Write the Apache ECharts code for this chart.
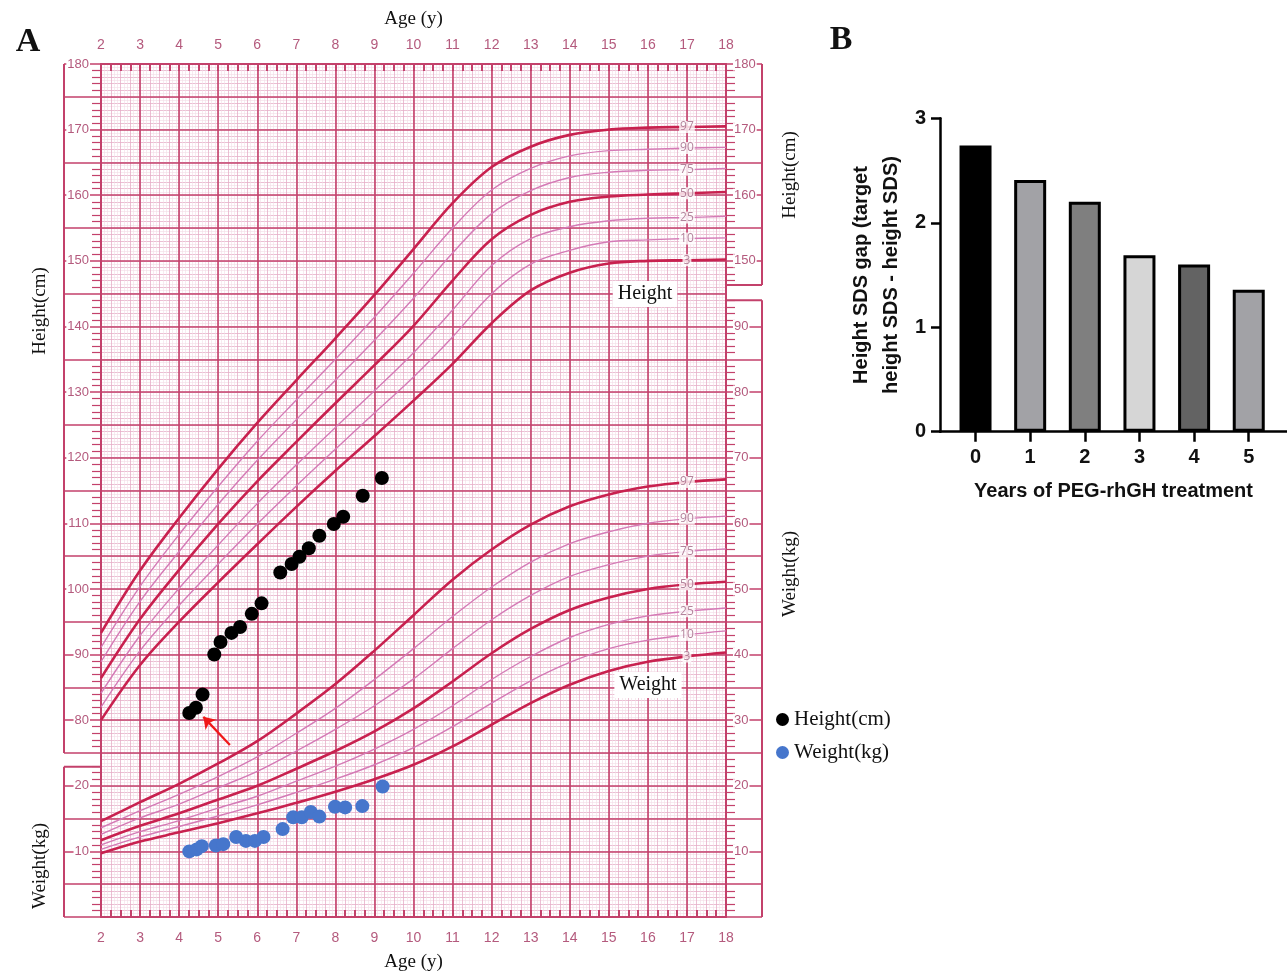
<!DOCTYPE html>
<html>
<head>
<meta charset="utf-8">
<title>Growth chart and SDS gap</title>
<script src="https://cdn.jsdelivr.net/npm/echarts@6.0.0/dist/echarts.min.js"></script>
<style>
    html, body {margin: 0; padding: 0; background: #fff;}
    #main {width: 1287px; height: 972px;}
</style>
</head>
<body>
<div id="main"></div>
<script>
// ages (y) of the reference curves
const ages = [2, 3, 4, 5, 6, 7, 8, 9, 10, 11, 12, 13, 14, 15, 16, 17, 18];

// height percentiles (cm)
const h3  = [80.0, 88.4, 95.0, 101.0, 106.8, 112.5, 118.0, 123.3, 128.7, 134.3, 140.5, 145.5, 148.2, 149.6, 150.0, 150.1, 150.2];
const h10 = [82.0, 90.6, 97.5, 103.8, 109.9, 115.7, 121.3, 126.8, 132.3, 138.4, 145.0, 149.5, 151.6, 152.9, 153.2, 153.4, 153.5];
const h25 = [84.1, 92.9, 100.1, 106.7, 113.0, 118.9, 124.6, 130.2, 136.0, 142.5, 149.3, 153.4, 155.2, 156.1, 156.5, 156.6, 156.8];
const h50 = [86.4, 95.4, 102.9, 109.9, 116.4, 122.4, 128.3, 134.1, 140.1, 147.0, 153.3, 157.0, 159.0, 159.8, 160.1, 160.3, 160.5];
const h75 = [88.9, 98.1, 105.7, 112.9, 119.6, 125.8, 131.8, 137.9, 144.3, 151.2, 157.2, 160.7, 162.7, 163.5, 163.8, 163.9, 164.1];
const h90 = [91.1, 100.4, 108.3, 115.6, 122.5, 128.8, 135.0, 141.4, 148.1, 155.0, 160.8, 164.1, 166.0, 166.8, 167.0, 167.2, 167.3];
const h97 = [93.3, 102.8, 110.8, 118.3, 125.3, 131.8, 138.2, 144.8, 151.8, 158.8, 164.3, 167.4, 169.2, 170.0, 170.3, 170.4, 170.5];

// weight percentiles (kg)
const w3  = [9.7, 11.5, 12.9, 14.3, 15.8, 17.4, 19.1, 21.0, 23.2, 26.0, 29.3, 32.6, 35.4, 37.5, 38.9, 39.7, 40.3];
const w10 = [10.3, 12.2, 13.8, 15.4, 17.1, 19.0, 21.0, 23.2, 25.8, 29.0, 32.6, 36.0, 38.8, 40.9, 42.2, 43.0, 43.6];
const w25 = [11.0, 13.0, 14.7, 16.6, 18.4, 20.7, 23.0, 25.6, 28.6, 32.2, 36.2, 39.7, 42.6, 44.6, 45.9, 46.6, 47.1];
const w50 = [11.7, 13.9, 15.8, 17.9, 20.0, 22.6, 25.3, 28.3, 31.8, 35.9, 40.2, 43.9, 46.8, 48.7, 50.0, 50.7, 51.1];
const w75 = [12.6, 15.1, 17.2, 19.7, 22.2, 25.3, 28.6, 32.2, 36.3, 40.9, 45.3, 49.0, 51.9, 53.7, 55.0, 55.7, 56.1];
const w90 = [13.6, 16.2, 18.7, 21.4, 24.4, 28.0, 31.8, 36.2, 40.9, 45.8, 50.3, 54.1, 56.9, 58.7, 60.0, 60.7, 61.1];
const w97 = [14.6, 17.5, 20.3, 23.4, 26.8, 31.0, 35.5, 40.6, 46.0, 51.4, 56.0, 59.8, 62.6, 64.4, 65.6, 66.3, 66.7];

// patient measurements
const heightAges = [4.26, 4.43, 4.60, 4.90, 5.06, 5.34, 5.56, 5.86, 6.11, 6.59, 6.88, 7.08, 7.32, 7.59, 7.96, 8.20, 8.70, 9.19];
const heights    = [81.1, 81.9, 83.9, 90.0, 91.9, 93.3, 94.2, 96.2, 97.8, 102.5, 103.8, 104.9, 106.2, 108.1, 109.9, 111.0, 114.2, 116.9];
const weightAges = [4.26, 4.45, 4.58, 4.94, 5.13, 5.46, 5.71, 5.94, 6.16, 6.65, 6.92, 7.14, 7.37, 7.59, 7.99, 8.25, 8.69, 9.21];
const weights    = [10.0, 10.3, 10.8, 10.9, 11.1, 12.2, 11.6, 11.6, 12.2, 13.4, 15.2, 15.2, 16.0, 15.3, 16.8, 16.7, 16.9, 19.9];

// red arrow [age, height]
const arrowFrom = [5.30, 76.2];
const arrowTo = [4.62, 80.5];

// panel B
const gapYears = ['0', '1', '2', '3', '4', '5'];
const gapValues = [2.74, 2.41, 2.20, 1.69, 1.60, 1.36];
const gapColors = ['#000000', '#a2a2a6', '#7f7f7f', '#d6d6d6', '#636363', '#a2a2a6'];

const SERIF = 'Liberation Serif';
const SANS = 'Liberation Sans';
const MAJOR = '#c3416b';
const MID = '#e6afc8';
const FINE = '#f4dbe6';
const LABEL = '#b45a7d';
const THICK = '#c8214f';
const THIN = '#d47ab6';

const pairs = (xs, ys) => xs.map((x, i) => [x, ys[i]]);

const curve = (name, values, yAxisIndex, thick) => ({
    name: name,
    type: 'line',
    xAxisIndex: 1,
    yAxisIndex: yAxisIndex,
    data: pairs(ages, values),
    smooth: 0.35,
    showSymbol: false,
    silent: true,
    lineStyle: {color: thick ? THICK : THIN, width: thick ? 2.6 : 1.4},
    z: 3,
});

// percentile labels sit on the age-17 line
const pctLabels = (list, yAxisIndex) => ({
    type: 'scatter',
    xAxisIndex: 1,
    yAxisIndex: yAxisIndex,
    symbolSize: 0,
    silent: true,
    z: 4,
    data: list.map(([text, values]) => ({name: text, value: [ages[15], values[15]]})),
    label: {
        show: true,
        position: 'inside',
        formatter: p => p.name,
        color: '#a06583',
        fontFamily: 'Open Sans',
        fontSize: 12,
        backgroundColor: '#fff',
        padding: [0, 1],
    },
});

const heightList = [['97', h97], ['90', h90], ['75', h75], ['50', h50], ['25', h25], ['10', h10], ['3', h3]];
const weightList = [['97', w97], ['90', w90], ['75', w75], ['50', w50], ['25', w25], ['10', w10], ['3', w3]];

const tickLabel = {
    color: LABEL,
    fontFamily: SANS,
    fontSize: 13,
    backgroundColor: '#fff',
    padding: [0, 1],
};

const chart = echarts.init(document.getElementById('main'));

const option = {
    animation: false,
    backgroundColor: '#fff',
    legend: {
        data: ['Height(cm)', 'Weight(kg)'],
        orient: 'vertical',
        left: 771,
        top: 704,
        icon: 'circle',
        itemWidth: 13,
        itemHeight: 13,
        itemGap: 12,
        textStyle: {fontFamily: SERIF, fontSize: 21, color: '#111'},
    },
    grid: [
        {left: 101, top: 64, width: 625, height: 853, outerBoundsMode: 'none'},
        {left: 940, top: 118.3, width: 347, height: 313.4, outerBoundsMode: 'none'},
    ],
    xAxis: [
        {
            // fine vertical grid
            type: 'value', gridIndex: 0, position: 'bottom', min: 2, max: 18, interval: 0.25, z: 0,
            axisLine: {show: false}, axisTick: {show: false}, axisLabel: {show: false},
            splitLine: {lineStyle: {color: MID, width: 0.8}},
            minorTick: {show: false, splitNumber: 3},
            minorSplitLine: {show: true, lineStyle: {color: FINE, width: 0.6}},
        },
        {
            type: 'value', gridIndex: 0, position: 'bottom', min: 2, max: 18, interval: 1, z: 1,
            axisLine: {onZero: false, lineStyle: {color: MAJOR, width: 2}},
            axisTick: {inside: true, length: 7, lineStyle: {color: MAJOR, width: 2}},
            minorTick: {show: true, splitNumber: 4, length: 7, lineStyle: {color: MAJOR, width: 2}},
            axisLabel: {color: LABEL, fontFamily: SANS, fontSize: 14, margin: 14},
            splitLine: {lineStyle: {color: MAJOR, width: 1.6}},
            name: 'Age (y)', nameLocation: 'middle', nameGap: 36,
            nameTextStyle: {fontFamily: SERIF, fontSize: 19, color: '#111'},
        },
        {
            type: 'value', gridIndex: 0, position: 'top', min: 2, max: 18, interval: 1, z: 1,
            axisLine: {onZero: false, lineStyle: {color: MAJOR, width: 2}},
            axisTick: {inside: true, length: 7, lineStyle: {color: MAJOR, width: 2}},
            minorTick: {show: true, splitNumber: 4, length: 7, lineStyle: {color: MAJOR, width: 2}},
            axisLabel: {color: LABEL, fontFamily: SANS, fontSize: 14, margin: 12},
            splitLine: {show: false},
            name: 'Age (y)', nameLocation: 'middle', nameGap: 35,
            nameTextStyle: {fontFamily: SERIF, fontSize: 19, color: '#111'},
        },
        {
            type: 'value', gridIndex: 1, min: -0.65, max: 5.7,
            axisLine: {onZero: false, lineStyle: {color: '#000', width: 2.5}},
            axisTick: {length: 10, lineStyle: {color: '#000', width: 2.5}, customValues: [0, 1, 2, 3, 4, 5]},
            axisLabel: {
                customValues: [0, 1, 2, 3, 4, 5],
                formatter: v => gapYears[v],
                color: '#111', fontFamily: SANS, fontSize: 20, fontWeight: 'bold', margin: 16,
            },
            splitLine: {show: false},
            name: 'Years of PEG-rhGH treatment', nameLocation: 'middle', nameGap: 50,
            nameTextStyle: {fontFamily: SANS, fontSize: 20, fontWeight: 'bold', color: '#111'},
        },
    ],
    yAxis: [
        {
            // fine horizontal grid
            type: 'value', gridIndex: 0, position: 'left', min: 50, max: 180, interval: 1, z: 0,
            axisLine: {show: false}, axisTick: {show: false}, axisLabel: {show: false},
            splitLine: {lineStyle: {color: MID, width: 0.8}},
            minorTick: {show: false, splitNumber: 2},
            minorSplitLine: {show: true, lineStyle: {color: FINE, width: 0.6}},
        },
        {
            // height (left)
            type: 'value', gridIndex: 0, position: 'left', min: 50, max: 180, interval: 5, z: 1,
            axisLine: {show: true, onZero: false, lineStyle: {color: MAJOR, width: 2}},
            axisTick: {show: true, length: 37, lineStyle: {color: MAJOR, width: 1.6}},
            minorTick: {show: true, splitNumber: 5, length: 9, lineStyle: {color: MAJOR, width: 1.2}},
            axisLabel: Object.assign({}, tickLabel, {
                margin: 11,
                formatter: v => (v % 10 !== 0 || v === 50) ? '' : String(v >= 80 ? v : v - 50),
            }),
            splitLine: {lineStyle: {color: MAJOR, width: 1.6}},
        },
        {
            // weight (right)
            type: 'value', gridIndex: 0, position: 'right', min: 0, max: 130, interval: 5, z: 1,
            axisLine: {show: true, onZero: false, lineStyle: {color: MAJOR, width: 2}},
            axisTick: {show: true, length: 36, lineStyle: {color: MAJOR, width: 1.6}},
            minorTick: {show: true, splitNumber: 5, length: 9, lineStyle: {color: MAJOR, width: 1.2}},
            axisLabel: Object.assign({}, tickLabel, {
                margin: 7,
                formatter: v => (v % 10 !== 0 || v === 0) ? '' : String(v >= 100 ? v + 50 : v),
            }),
            splitLine: {show: false},
        },
        {
            type: 'value', gridIndex: 1, min: 0, max: 3, interval: 1,
            axisLine: {show: true, onZero: false, lineStyle: {color: '#000', width: 2.5}},
            axisTick: {show: true, length: 9, lineStyle: {color: '#000', width: 2.5}},
            axisLabel: {color: '#111', fontFamily: SANS, fontSize: 20, fontWeight: 'bold', margin: 14},
            splitLine: {show: false},
            name: 'Height SDS gap (target\nheight SDS - height SDS)',
            nameLocation: 'middle', nameRotate: 90, nameGap: 34,
            nameTextStyle: {fontFamily: SANS, fontSize: 20, fontWeight: 'bold', color: '#111', lineHeight: 30},
        },
    ],
    series: [
        curve('h97', h97, 1, true),
        curve('h90', h90, 1, false),
        curve('h75', h75, 1, false),
        curve('h50', h50, 1, true),
        curve('h25', h25, 1, false),
        curve('h10', h10, 1, false),
        curve('h3', h3, 1, true),
        curve('w97', w97, 2, true),
        curve('w90', w90, 2, false),
        curve('w75', w75, 2, false),
        curve('w50', w50, 2, true),
        curve('w25', w25, 2, false),
        curve('w10', w10, 2, false),
        curve('w3', w3, 2, true),
        pctLabels(heightList, 1),
        pctLabels(weightList, 2),
        {
            name: 'Height(cm)',
            type: 'scatter',
            xAxisIndex: 1,
            yAxisIndex: 1,
            symbolSize: 14,
            itemStyle: {color: '#000', opacity: 1},
            data: pairs(heightAges, heights),
            z: 5,
            markLine: {
                silent: true,
                symbol: ['none', 'arrow'],
                symbolSize: 11,
                label: {show: false},
                lineStyle: {color: '#f01818', width: 2.2, type: 'solid'},
                data: [[{coord: arrowFrom}, {coord: arrowTo}]],
            },
        },
        {
            name: 'Weight(kg)',
            type: 'scatter',
            xAxisIndex: 1,
            yAxisIndex: 2,
            symbolSize: 14,
            itemStyle: {color: '#4676cc', opacity: 1},
            data: pairs(weightAges, weights),
            z: 5,
        },
        {
            type: 'bar',
            xAxisIndex: 3,
            yAxisIndex: 3,
            barWidth: 32,
            itemStyle: {borderColor: '#000', borderWidth: 3},
            data: gapValues.map((v, i) => ({value: [i, v], itemStyle: {color: gapColors[i]}})),
        },
    ],
};

chart.setOption(option);

/**
 * side frames of panel A, placed from the axes
 */
const yH = v => chart.convertToPixel({yAxisIndex: 1}, v);
const xL = chart.convertToPixel({xAxisIndex: 1}, 2);
const xR = chart.convertToPixel({xAxisIndex: 1}, 18);
const leftEdge = xL - 37;
const rightEdge = xR + 36;
// where the side boxes break (height scale)
const leftBreak = [75, 72.9];
const rightBreak = [146.3, 144.0];

const frame = {stroke: MAJOR, lineWidth: 2};
const seg = (x1, y1, x2, y2) => ({type: 'line', z: 100, shape: {x1, y1, x2, y2}, style: frame, silent: true});
const blank = (x, y, width, height) => ({type: 'rect', z: 99, shape: {x, y, width, height}, style: {fill: '#fff'}, silent: true});

const text = (str, x, y, font, rotation, extra) => ({
    type: 'text', z: 110, x, y, rotation: rotation || 0, silent: true,
    style: Object.assign({text: str, font: font, fill: '#111', align: 'center', verticalAlign: 'middle'}, extra || {}),
});

chart.setOption({
    graphic: [
        blank(leftEdge - 2, yH(leftBreak[0]) + 1, xL - leftEdge + 1, yH(leftBreak[1]) - yH(leftBreak[0]) - 2),
        seg(leftEdge, yH(180), leftEdge, yH(leftBreak[0])),
        seg(leftEdge, yH(leftBreak[1]), xL, yH(leftBreak[1])),
        seg(leftEdge, yH(leftBreak[1]), leftEdge, yH(50)),
        blank(xR + 1, yH(rightBreak[0]) + 1, rightEdge - xR + 2, yH(rightBreak[1]) - yH(rightBreak[0]) - 2),
        seg(rightEdge, yH(180), rightEdge, yH(rightBreak[0])),
        seg(xR, yH(rightBreak[0]), rightEdge, yH(rightBreak[0])),
        seg(xR, yH(rightBreak[1]), rightEdge, yH(rightBreak[1])),
        seg(rightEdge, yH(rightBreak[1]), rightEdge, yH(50)),
        text('A', 28, 42, 'bold 34px ' + SERIF),
        text('B', 841, 40, 'bold 34px ' + SERIF),
        text('Height(cm)', 40, 311, '19px ' + SERIF, Math.PI / 2),
        text('Weight(kg)', 40, 866, '19px ' + SERIF, Math.PI / 2),
        text('Height(cm)', 790, 175, '19px ' + SERIF, Math.PI / 2),
        text('Weight(kg)', 790, 574, '19px ' + SERIF, Math.PI / 2),
        text('Height', 645, 294, '20px ' + SERIF, 0, {backgroundColor: '#fff', padding: [3, 5]}),
        text('Weight', 648, 685, '20px ' + SERIF, 0, {backgroundColor: '#fff', padding: [3, 5]}),
    ],
});
</script>
</body>
</html>
